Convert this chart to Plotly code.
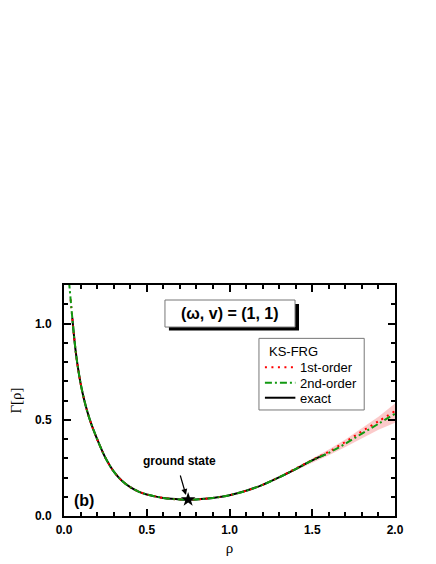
import plotly.graph_objects as go

# exact functional
rho_exact = [0.05, 0.06, 0.07, 0.08, 0.09, 0.10, 0.12, 0.14, 0.16, 0.18, 0.20, 0.25,
             0.30, 0.35, 0.40, 0.45, 0.50, 0.55, 0.60, 0.65, 0.70, 0.75, 0.80, 0.85,
             0.90, 0.95, 1.00, 1.10, 1.20, 1.30, 1.40, 1.50, 1.58]
gamma_exact = [1.03, 0.94, 0.86, 0.795, 0.74, 0.69, 0.61, 0.545, 0.49, 0.443, 0.40, 0.303,
               0.232, 0.183, 0.150, 0.127, 0.112, 0.102, 0.094, 0.089, 0.086, 0.085, 0.086, 0.089,
               0.094, 0.100, 0.108, 0.131, 0.162, 0.201, 0.244, 0.289, 0.320]

# KS-FRG 1st order
rho_1st = [0.04, 0.05, 0.06, 0.07, 0.08, 0.09, 0.10, 0.12, 0.14, 0.16, 0.18, 0.20, 0.25,
           0.30, 0.35, 0.40, 0.45, 0.50, 0.55, 0.60, 0.65, 0.70, 0.75, 0.80, 0.85,
           0.90, 0.95, 1.00, 1.10, 1.20, 1.30, 1.40, 1.50, 1.60, 1.70, 1.80, 1.90, 2.00]
gamma_1st = [1.125, 1.03, 0.94, 0.86, 0.795, 0.74, 0.69, 0.61, 0.545, 0.49, 0.443, 0.40, 0.303,
             0.232, 0.183, 0.150, 0.127, 0.112, 0.102, 0.094, 0.089, 0.086, 0.085, 0.086, 0.089,
             0.094, 0.100, 0.108, 0.131, 0.162, 0.202, 0.246, 0.291, 0.334, 0.385, 0.440, 0.492, 0.545]

# KS-FRG 2nd order
rho_2nd = [0.03, 0.04, 0.05, 0.06, 0.07, 0.08, 0.09, 0.10, 0.12, 0.14, 0.16, 0.18, 0.20, 0.25,
           0.30, 0.35, 0.40, 0.45, 0.50, 0.55, 0.60, 0.65, 0.70, 0.75, 0.80, 0.85,
           0.90, 0.95, 1.00, 1.10, 1.20, 1.30, 1.40, 1.50, 1.60, 1.70, 1.80, 1.90, 2.00]
gamma_2nd = [1.22, 1.125, 1.03, 0.94, 0.86, 0.795, 0.74, 0.69, 0.61, 0.545, 0.49, 0.443, 0.40, 0.303,
             0.232, 0.183, 0.150, 0.127, 0.112, 0.102, 0.094, 0.089, 0.086, 0.085, 0.086, 0.089,
             0.094, 0.100, 0.108, 0.131, 0.162, 0.201, 0.244, 0.289, 0.328, 0.376, 0.428, 0.479, 0.531]

# uncertainty band
rho_band = [0.05, 0.06, 0.07, 0.08, 0.09, 0.10, 0.12, 0.14, 0.16, 0.18, 0.20, 0.25,
            0.30, 0.35, 0.40, 0.50, 0.60, 0.70, 0.80, 0.90, 1.00, 1.10, 1.20,
            1.30, 1.40, 1.50, 1.60, 1.70, 1.80, 1.90, 2.00]
band_lo = [0.98, 0.89, 0.815, 0.755, 0.705, 0.658, 0.583, 0.523, 0.470, 0.426, 0.385, 0.292,
           0.224, 0.177, 0.146, 0.109, 0.091, 0.083, 0.083, 0.091, 0.105, 0.128, 0.158,
           0.197, 0.236, 0.279, 0.316, 0.358, 0.404, 0.448, 0.485]
band_hi = [1.033, 0.943, 0.863, 0.798, 0.743, 0.693, 0.613, 0.548, 0.493, 0.446, 0.403, 0.306,
           0.235, 0.186, 0.153, 0.115, 0.097, 0.089, 0.089, 0.097, 0.111, 0.134, 0.165,
           0.206, 0.252, 0.300, 0.345, 0.398, 0.458, 0.516, 0.584]

ground_rho = [0.75]
ground_gamma = [0.085]

legend_title = "KS-FRG"
legend_names = ["1st-order", "2nd-order", "exact"]
legend_colors = ["red", "#119911", "black"]
legend_dashes = ["2px,4.5px", "7px,3px,2px,3px", "solid"]

FONT = "Arial, Liberation Sans, sans-serif"
SERIF = "Times New Roman, Liberation Serif, serif"

fig = go.Figure()

fig.add_trace(go.Scatter(x=rho_band, y=band_lo, mode="lines", line=dict(width=0),
                         showlegend=False, hoverinfo="skip"))
fig.add_trace(go.Scatter(x=rho_band, y=band_hi, mode="lines", line=dict(width=0),
                         fill="tonexty", fillcolor="rgba(248,150,150,0.5)",
                         showlegend=False, hoverinfo="skip"))

fig.add_trace(go.Scatter(x=rho_exact, y=gamma_exact, mode="lines", showlegend=False,
                         line=dict(color=legend_colors[2], width=2, shape="spline")))
fig.add_trace(go.Scatter(x=rho_1st, y=gamma_1st, mode="lines", showlegend=False,
                         line=dict(color=legend_colors[0], width=2, dash=legend_dashes[0], shape="spline")))
fig.add_trace(go.Scatter(x=rho_2nd, y=gamma_2nd, mode="lines", showlegend=False,
                         line=dict(color=legend_colors[1], width=2, dash=legend_dashes[1], shape="spline")))
fig.add_trace(go.Scatter(x=ground_rho, y=ground_gamma, mode="markers", showlegend=False,
                         marker=dict(symbol="star", size=11, color="black")))

axis_common = dict(
    showline=True, linecolor="black", linewidth=2, mirror="allticks",
    ticks="inside", ticklen=7, tickwidth=1.5, tickcolor="black",
    showgrid=False, zeroline=False, automargin=False,
    tickfont=dict(family=FONT, size=12, color="black", weight="bold"),
)

fig.update_xaxes(range=[0, 2], dtick=0.5, tickformat=".1f",
                 minor=dict(dtick=0.1, ticks="inside", ticklen=4, tickwidth=1.5, tickcolor="black"),
                 title=dict(text="ρ", font=dict(family=SERIF, size=15), standoff=6),
                 ticklabelstandoff=2, **axis_common)
fig.update_yaxes(range=[0, 1.2], dtick=0.5, tickformat=".1f",
                 minor=dict(dtick=0.1, ticks="inside", ticklen=4, tickwidth=1.5, tickcolor="black"),
                 title=dict(text="Γ[ρ]", font=dict(family=SERIF, size=15), standoff=12),
                 ticklabelstandoff=8, **axis_common)

# parameter box with drop shadow
fig.add_shape(type="rect", xref="x domain", yref="y domain", x0=0.317, x1=0.710, y0=0.803, y1=0.918,
              fillcolor="black", line=dict(width=0), layer="below")
fig.add_shape(type="rect", xref="x domain", yref="y domain", x0=0.305, x1=0.698, y0=0.818, y1=0.935,
              fillcolor="white", line=dict(color="#777777", width=1), layer="below")
fig.add_annotation(x=0.5015, y=0.8765, xref="x domain", yref="y domain", text="<b>(ω, v) = (1, 1)</b>",
                   showarrow=False, xanchor="center", yanchor="middle",
                   font=dict(family=FONT, size=16, color="black"))

# legend box drawn by hand
fig.add_shape(type="rect", xref="x domain", yref="y domain", x0=0.589, x1=0.907, y0=0.459, y1=0.769,
              fillcolor="white", line=dict(color="#777777", width=1), layer="below")
fig.add_annotation(x=0.612, y=0.714, xref="x domain", yref="y domain", text=legend_title,
                   showarrow=False, xanchor="left", yanchor="middle", height=14,
                   font=dict(family=FONT, size=13, color="black"))
row_y = [0.644, 0.577, 0.512]
for name, color, dash, yy in zip(legend_names, legend_colors, legend_dashes, row_y):
    fig.add_shape(type="line", xref="x domain", yref="y domain", x0=0.607, x1=0.699, y0=yy, y1=yy,
                  line=dict(color=color, width=2, dash=dash))
    fig.add_annotation(x=0.706, y=yy, xref="x domain", yref="y domain", text=name,
                       showarrow=False, xanchor="left", yanchor="middle", height=14,
                       font=dict(family=FONT, size=13, color="black"))

fig.add_annotation(x=0.737, y=0.109, ax=0.70, ay=0.218, xref="x", yref="y", axref="x", ayref="y",
                   text="", showarrow=True, arrowhead=2, arrowsize=1, arrowwidth=1.2, arrowcolor="black")
fig.add_annotation(x=0.695, y=0.287, text="<b>ground state</b>", showarrow=False,
                   xanchor="center", yanchor="middle", font=dict(family=FONT, size=12, color="black"))
fig.add_annotation(x=0.121, y=0.083, text="<b>(b)</b>", showarrow=False,
                   xanchor="center", yanchor="middle", font=dict(family=FONT, size=16, color="black"))

# page body adds an 8 px offset, so margins are trimmed to keep the plot area in place
fig.update_layout(
    width=420, height=548,
    margin=dict(l=56, r=33, t=277, b=40),
    paper_bgcolor="white", plot_bgcolor="white",
    font=dict(family=FONT, color="black"),
    showlegend=False,
)

fig.write_html("out.html")
